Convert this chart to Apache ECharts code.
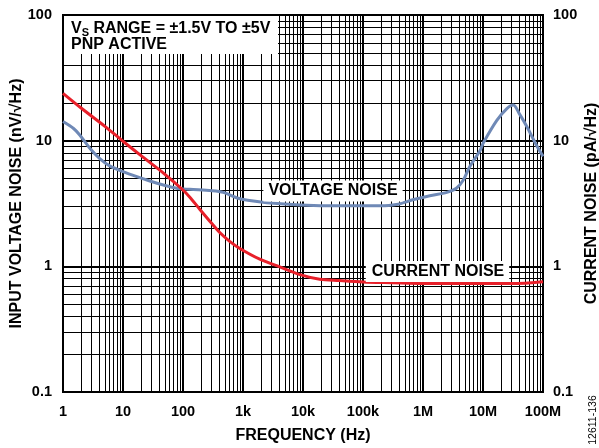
<!DOCTYPE html>
<html><head><meta charset="utf-8">
<script src="https://cdn.jsdelivr.net/npm/echarts@6/dist/echarts.min.js"></script>
<style>html,body{margin:0;padding:0;background:#fff}#c{width:599px;height:448px}</style>
</head><body><div id="c"></div>
<script>
// ---- data ----
const xTickValues = [1, 10, 100, 1e3, 1e4, 1e5, 1e6, 1e7, 1e8];
const xTickLabels = ['1', '10', '100', '1k', '10k', '100k', '1M', '10M', '100M'];
const yTickValues = [0.1, 1, 10, 100];
const yTickLabels = ['0.1', '1', '10', '100'];

// Voltage noise (nV/√Hz), blue
const vFreq  = [1, 1.5, 1.9, 2.8, 4.1, 6, 10, 17, 28, 47, 78, 130, 300, 470, 800, 1200, 2500, 9000, 4e4, 1.9e5, 3.6e5, 7e5, 1.3e6, 2.5e6, 3.6e6, 4.7e6, 6e6, 9e6, 1e7, 1.7e7, 2.5e7, 3.2e7, 4e7, 5.4e7, 7.5e7, 1e8];
const vNoise = [14.2, 12.5, 11.1, 8.7, 7.2, 6.3, 5.67, 5.17, 4.78, 4.44, 4.18, 4.1, 4.0, 3.88, 3.5, 3.35, 3.21, 3.08, 3.03, 3.03, 3.1, 3.4, 3.65, 3.88, 4.18, 4.86, 6.2, 8.4, 9.5, 14.5, 18.0, 19.2, 16.5, 12.9, 9.5, 7.5];

// Current noise (pA/√Hz), red
const iFreq  = [1, 2, 5, 10, 20, 50, 100, 130, 190, 300, 414, 600, 900, 1900, 4100, 8900, 1.9e4, 4e4, 1e5, 3e5, 1e6, 1e7, 5e7, 1e8];
const iNoise = [23.8, 18.2, 13.0, 9.9, 7.6, 5.4, 4.05, 3.55, 2.85, 2.2, 1.85, 1.58, 1.38, 1.14, 0.99, 0.86, 0.79, 0.77, 0.75, 0.74, 0.73, 0.73, 0.735, 0.755];

const FONT = 'Liberation Sans, Arial, Helvetica, sans-serif';
const chart = echarts.init(document.getElementById('c'), null, {renderer: 'canvas'});

function pairs(xs, ys) { return xs.map((x, i) => [x, ys[i]]); }
function xLabel(v) {
  const i = Math.round(Math.log10(v));
  return xTickLabels[i] !== undefined ? xTickLabels[i] : '';
}
function yLabel(v) {
  const i = Math.round(Math.log10(v)) + 1;
  return yTickLabels[i] !== undefined ? yTickLabels[i] : '';
}

const axisText = {color: '#000', fontFamily: FONT, fontWeight: 'bold', fontSize: 14.5};
const nameText = {color: '#000', fontFamily: FONT, fontWeight: 'bold', fontSize: 16};

const yCommon = {
  type: 'log', logBase: 10, min: 0.1, max: 100, interval: 1,
  nameLocation: 'middle', nameTextStyle: nameText, nameMoveOverlap: false,
  axisTick: {show: false},
  axisLine: {show: true, lineStyle: {color: '#000', width: 2}},
  minorTick: {show: false, splitNumber: 9}
};

chart.setOption({
  animation: false,
  backgroundColor: '#fff',
  grid: {left: 63, right: 56, top: 15, bottom: 56, show: true, borderColor: '#000', borderWidth: 2, containLabel: false, outerBoundsMode: 'none'},
  xAxis: {
    type: 'log', logBase: 10, min: 1, max: 1e8, interval: 1,
    name: 'FREQUENCY (Hz)', nameLocation: 'middle', nameGap: 36, nameTextStyle: nameText, nameMoveOverlap: false,
    axisLabel: Object.assign({margin: 12, formatter: xLabel}, axisText),
    axisTick: {show: false},
    axisLine: {show: true, lineStyle: {color: '#000', width: 2}},
    splitLine: {show: true, lineStyle: {color: '#000', width: 2}},
    minorTick: {show: false, splitNumber: 9},
    minorSplitLine: {show: true, lineStyle: {color: '#000', width: 1}}
  },
  yAxis: [
    Object.assign({}, yCommon, {
      position: 'left', name: 'INPUT VOLTAGE NOISE (nV/√Hz)', nameGap: 38,
      axisLabel: Object.assign({margin: 11, formatter: yLabel}, axisText),
      splitLine: {show: true, lineStyle: {color: '#000', width: 2}},
      minorSplitLine: {show: true, lineStyle: {color: '#000', width: 1}}
    }),
    Object.assign({}, yCommon, {
      position: 'right', name: 'CURRENT NOISE (pA/√Hz)', nameGap: 41,
      axisLabel: Object.assign({margin: 10, formatter: yLabel}, axisText),
      splitLine: {show: false},
      minorSplitLine: {show: false}
    })
  ],
  series: [
    {
      name: 'VOLTAGE NOISE', type: 'line', yAxisIndex: 0, z: 3,
      data: pairs(vFreq, vNoise), showSymbol: false, smooth: 0.3,
      lineStyle: {color: '#6f89b6', width: 3}, itemStyle: {color: '#6f89b6'}
    },
    {
      name: 'CURRENT NOISE', type: 'line', yAxisIndex: 1, z: 4,
      data: pairs(iFreq, iNoise), showSymbol: false, smooth: 0.3,
      lineStyle: {color: '#e8202a', width: 3}, itemStyle: {color: '#e8202a'}
    }
  ],
  graphic: [
    {type: 'rect', z: 10, shape: {x: 64, y: 16, width: 214, height: 38}, style: {fill: '#fff'}},
    {type: 'text', z: 11, x: 71, y: 21, style: {
      text: '{v|V}{s|S}{v| RANGE = ±1.5V TO ±5V}', fill: '#000',
      rich: {
        v: {fontFamily: FONT, fontWeight: 'bold', fontSize: 16, lineHeight: 17, verticalAlign: 'top', color: '#000'},
        s: {fontFamily: FONT, fontWeight: 'bold', fontSize: 11, lineHeight: 11, verticalAlign: 'top', padding: [6, 0, 0, 0], color: '#000'}
      }
    }},
    {type: 'text', z: 11, x: 71, y: 44.5, style: {text: 'PNP ACTIVE', fill: '#000', font: 'bold 16px ' + FONT, verticalAlign: 'middle'}},
    {type: 'text', z: 11, x: 333, y: 191, style: {
      text: 'VOLTAGE NOISE', fill: '#000', font: 'bold 16px ' + FONT, align: 'center', verticalAlign: 'middle',
      backgroundColor: '#fff', padding: [3, 5, 2, 5]
    }},
    {type: 'text', z: 11, x: 437.5, y: 271.5, style: {
      text: 'CURRENT NOISE', fill: '#000', font: 'bold 16px ' + FONT, align: 'center', verticalAlign: 'middle',
      backgroundColor: '#fff', padding: [3, 5, 2, 6]
    }},
    {type: 'text', z: 11, x: 593.5, y: 420, rotation: Math.PI / 2, style: {
      text: '12611-136', fill: '#000', font: '10.5px ' + FONT, align: 'center', verticalAlign: 'middle'
    }}
  ]
});
</script>
</body></html>
